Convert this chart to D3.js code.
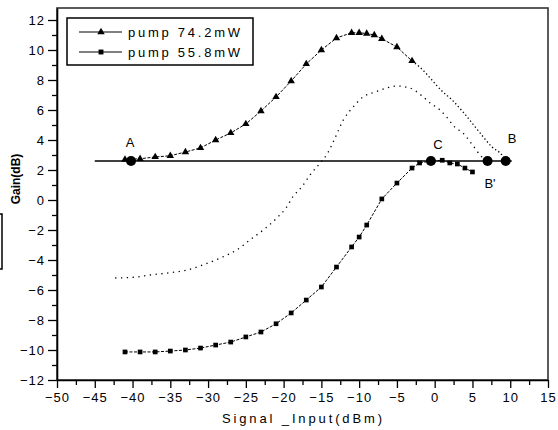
<!DOCTYPE html>
<html>
<head>
<meta charset="utf-8">
<script src="https://cdn.jsdelivr.net/npm/d3@7"></script>
<style>
  body { margin: 0; background: #fff; }
  text { font-family: "Liberation Sans", Arial, sans-serif; fill: #000; }
</style>
</head>
<body>
<svg id="chart"></svg>
<script>
// pump 74.2 mW (triangles)
const pumpHighX = [-41, -39, -37, -35, -33, -31, -29, -27, -25, -23, -21, -19, -17, -15, -13, -11, -10, -9, -8, -7, -5, -3];
const pumpHighY = [2.7, 2.75, 2.87, 2.95, 3.2, 3.47, 4.0, 4.47, 5.07, 5.93, 6.87, 7.93, 9.07, 10.0, 10.8, 11.15, 11.15, 11.1, 11.0, 10.75, 10.2, 9.27];
// dotted continuation of the 74.2 mW curve down to B
const highTailX = [-3, -2, 1.1, 2.3, 3.75, 6, 7.6, 8.9, 9.4];
const highTailY = [9.27, 8.87, 7.2, 6.67, 5.87, 4.47, 3.53, 3.0, 2.6];
// pump 55.8 mW (squares)
const pumpLowX = [-41, -39, -37, -35, -33, -31, -29, -27, -25, -23, -21, -19, -17, -15, -13, -11, -10, -9, -7, -5, -3, -2, -0.5, 1, 2, 3, 4, 5];
const pumpLowY = [-10.13, -10.13, -10.13, -10.07, -10.0, -9.87, -9.67, -9.47, -9.13, -8.8, -8.25, -7.53, -6.67, -5.8, -4.47, -3.13, -2.47, -1.67, 0.07, 1.13, 2.13, 2.47, 2.6, 2.65, 2.47, 2.4, 2.13, 1.87];
// middle dotted curve, no symbols
const midX = [-42.3, -39.4, -37.7, -35.4, -32.8, -30.7, -28.4, -26.2, -24.3, -22.7, -20.9, -19.6, -18.8, -17.6, -16.5, -15.4, -14.2, -13.2, -12.1, -10.8, -9.5, -7.9, -6.3, -5.0, -3.3, -1.7, -0.6, 0.7, 1.8, 2.4, 4.0, 4.7, 5.3, 6.0, 7.0];
const midY = [-5.2, -5.13, -5.0, -4.87, -4.67, -4.33, -3.87, -3.33, -2.6, -2.0, -1.2, -0.47, 0.2, 0.87, 1.67, 2.33, 3.1, 4.13, 5.33, 6.2, 6.87, 7.2, 7.47, 7.6, 7.47, 6.95, 6.47, 6.0, 5.4, 5.0, 4.33, 3.87, 3.47, 3.0, 2.6];
// reference level and marked points
const refLevel = 2.6;
const refFrom = -45, refTo = 10.2;
const pointNames = ["A", "C", "B'", "B"];
const pointX = [-40.2, -0.5, 7.0, 9.4];
const xTicks = [-50, -45, -40, -35, -30, -25, -20, -15, -10, -5, 0, 5, 10, 15];
const yTicks = [-12, -10, -8, -6, -4, -2, 0, 2, 4, 6, 8, 10, 12];
const legendNames = ["pump 74.2mW", "pump 55.8mW"];

const W = 558, H = 430;
const svg = d3.select('#chart').attr('width', W).attr('height', H);

const x = d3.scaleLinear().domain([-50, 15]).range([57, 548]);
const y = d3.scaleLinear().domain([-12, 12.8]).range([380, 8]);

// frame (top / right)
svg.append('rect')
  .attr('x', x(-50)).attr('y', y(12.8))
  .attr('width', x(15) - x(-50)).attr('height', y(-12) - y(12.8))
  .attr('fill', 'none').attr('stroke', '#333').attr('stroke-width', 1.6);

// minor ticks
const xMinor = d3.range(-47.5, 15, 5);
const yMinor = d3.range(-11, 12, 2);
svg.append('g').attr('transform', `translate(0,${y(-12)})`)
  .call(d3.axisBottom(x).tickValues(xMinor).tickSize(5).tickFormat(''))
  .call(g => g.select('.domain').remove())
  .selectAll('line').attr('stroke-width', 1.3);
svg.append('g').attr('transform', `translate(${x(-50)},0)`)
  .call(d3.axisLeft(y).tickValues(yMinor).tickSize(5).tickFormat(''))
  .call(g => g.select('.domain').remove())
  .selectAll('line').attr('stroke-width', 1.3);

// main axes
const xAxisG = svg.append('g').attr('transform', `translate(0,${y(-12)})`)
  .call(d3.axisBottom(x).tickValues(xTicks).tickSize(8).tickSizeOuter(0).tickPadding(5));
const yAxisG = svg.append('g').attr('transform', `translate(${x(-50)},0)`)
  .call(d3.axisLeft(y).tickValues(yTicks).tickSize(9).tickSizeOuter(0).tickPadding(3));
[xAxisG, yAxisG].forEach(g => {
  g.select('.domain').attr('stroke-width', 1.6);
  g.selectAll('line').attr('stroke-width', 1.3);
  g.selectAll('text')
    .style('font-family', '"Liberation Sans", Arial, sans-serif')
    .style('font-size', '13px')
    .style('letter-spacing', '1px')
    .attr('fill', '#000');
});

// axis titles
svg.append('text')
  .attr('x', 302).attr('y', 423)
  .attr('text-anchor', 'middle')
  .attr('textLength', 160).attr('lengthAdjust', 'spacing')
  .style('font-size', '13px')
  .text('Signal _Input(dBm)');
svg.append('text')
  .attr('transform', 'translate(20,179) rotate(-90)')
  .attr('text-anchor', 'middle')
  .style('font-size', '12px').style('font-weight', 'bold')
  .text('Gain(dB)');

// stray bracket at left edge
svg.append('path')
  .attr('d', 'M0,214 H2 V269 H0')
  .attr('fill', 'none').attr('stroke', '#000').attr('stroke-width', 1.5);

const line = d3.line().x(d => x(d[0])).y(d => y(d[1]));
const zip = (a, b) => a.map((v, i) => [v, b[i]]);

// middle dotted curve
svg.append('path').datum(zip(midX, midY))
  .attr('d', line.curve(d3.curveMonotoneX))
  .attr('fill', 'none').attr('stroke', '#000').attr('stroke-width', 1.3)
  .attr('stroke-dasharray', '1.3,4.5');

// high pump tail dotted
svg.append('path').datum(zip(highTailX, highTailY))
  .attr('d', line.curve(d3.curveMonotoneX))
  .attr('fill', 'none').attr('stroke', '#000').attr('stroke-width', 1.3)
  .attr('stroke-dasharray', '1.3,2.5');

// reference line
svg.append('line')
  .attr('x1', x(refFrom)).attr('x2', x(refTo))
  .attr('y1', y(refLevel)).attr('y2', y(refLevel))
  .attr('stroke', '#000').attr('stroke-width', 1.5);

// series with symbols
const series = [
  { xs: pumpHighX, ys: pumpHighY, sym: d3.symbolTriangle, size: 24 },
  { xs: pumpLowX, ys: pumpLowY, sym: d3.symbolSquare, size: 22 }
];
series.forEach(s => {
  const pts = zip(s.xs, s.ys);
  svg.append('path').datum(pts)
    .attr('d', d3.line().x(d => x(d[0])).y(d => y(d[1])))
    .attr('fill', 'none').attr('stroke', '#000').attr('stroke-width', 1)
    .attr('stroke-dasharray', '3,1.5');
  svg.append('g').selectAll('path').data(pts).join('path')
    .attr('transform', d => `translate(${x(d[0])},${y(d[1])})`)
    .attr('d', d3.symbol().type(s.sym).size(s.size))
    .attr('fill', '#000');
});

// big markers
svg.append('g').selectAll('circle').data(pointX).join('circle')
  .attr('cx', d => x(d)).attr('cy', y(refLevel)).attr('r', 5)
  .attr('fill', '#000');

// point labels
const labelPos = { "A": [130, 147], "C": [438, 149], "B": [512, 143], "B'": [490, 188] };
svg.append('g').selectAll('text').data(pointNames).join('text')
  .attr('x', d => labelPos[d][0]).attr('y', d => labelPos[d][1])
  .attr('text-anchor', 'middle')
  .style('font-size', '13px')
  .text(d => d);

// legend
const lg = svg.append('g');
lg.append('rect').attr('x', 67).attr('y', 18).attr('width', 186).attr('height', 47)
  .attr('fill', '#fff').attr('stroke', '#000').attr('stroke-width', 1.5);
const legSyms = [d3.symbolTriangle, d3.symbolSquare];
legendNames.forEach((name, i) => {
  const ly = 32 + i * 20;
  lg.append('line').attr('x1', 79).attr('x2', 122).attr('y1', ly).attr('y2', ly)
    .attr('stroke', '#000').attr('stroke-width', 1);
  lg.append('path').attr('transform', `translate(101,${ly})`)
    .attr('d', d3.symbol().type(legSyms[i]).size(24)).attr('fill', '#000');
  lg.append('text').attr('x', 128).attr('y', ly + 5)
    .attr('textLength', 112).attr('lengthAdjust', 'spacing')
    .style('font-size', '13px')
    .text(name);
});
</script>
</body>
</html>
